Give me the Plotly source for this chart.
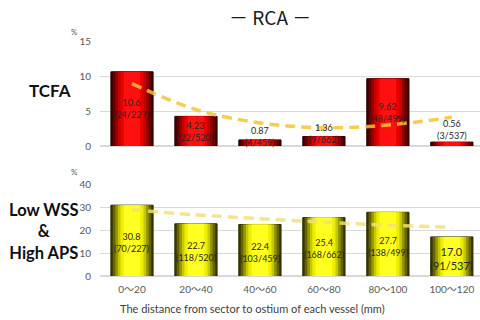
import plotly.graph_objects as go

categories = ["0～20", "20～40", "40～60", "60～80", "80～100", "100～120"]
tcfa_values = [10.6, 4.23, 0.87, 1.36, 9.62, 0.56]
tcfa_counts = ["24/227", "22/520", "4/459", "9/662", "48/499", "3/537"]
tcfa_trend = [8.9, 5.2, 3.3, 2.6, 3.0, 4.1]
wss_values = [30.8, 22.7, 22.4, 25.4, 27.7, 17.0]
wss_counts = ["70/227", "118/520", "103/459", "168/662", "138/499", "91/537"]
wss_trend = [28.8, 26.6, 24.9, 23.4, 22.1, 21.2]
tcfa_ticks = [0, 5, 10, 15]
wss_ticks = [0, 10, 20, 30, 40]

W, H = 480, 320
ML = 100


def px(x):
    return (x - ML) / (W - ML)


def py(y):
    return 1 - y / H


fig = go.Figure()

red_layers = [(0.66, "#3a0000"), (0.60, "#640000"), (0.52, "#960000"), (0.44, "#c40000"), (0.36, "#e60000"), (0.26, "#ff1010")]
yel_layers = [(0.66, "#3a3a00"), (0.60, "#646400"), (0.52, "#969600"), (0.44, "#c8c800"), (0.36, "#eeee00"), (0.26, "#ffff20")]

x_idx = list(range(len(categories)))
for i, (w, c) in enumerate(red_layers):
    fig.add_trace(go.Bar(x=x_idx, y=tcfa_values, width=w, marker=dict(color=c, line=dict(width=1 if i == 0 else 0, color="#2a0000")),
                         xaxis="x", yaxis="y", showlegend=False, hoverinfo="skip"))
for i, (w, c) in enumerate(yel_layers):
    fig.add_trace(go.Bar(x=x_idx, y=wss_values, width=w, marker=dict(color=c, line=dict(width=1 if i == 0 else 0, color="#2a2a00")),
                         xaxis="x2", yaxis="y2", showlegend=False, hoverinfo="skip"))

fig.add_trace(go.Scatter(x=x_idx, y=tcfa_trend, mode="lines", line=dict(color="rgba(245,195,50,0.85)", width=3.5, dash="10px,6px", shape="spline"),
                         xaxis="x", yaxis="y", showlegend=False, hoverinfo="skip"))
fig.add_trace(go.Scatter(x=x_idx, y=wss_trend, mode="lines", line=dict(color="rgba(242,225,120,0.85)", width=3.5, dash="10px,6px", shape="spline"),
                         xaxis="x2", yaxis="y2", showlegend=False, hoverinfo="skip"))

lab_font = dict(family="Lato, Open Sans, sans-serif", size=9, color="#262626")
annotations = []
for i, (v, c) in enumerate(zip(tcfa_values, tcfa_counts)):
    if v > 3:
        y = v / 2
    elif i == len(tcfa_values) - 1:
        y = v + 1.85
    else:
        y = v + 0.45
    annotations.append(dict(x=i, y=y, xref="x", yref="y", text=f"{v:g}<br>({c})", showarrow=False,
                            font=lab_font, yanchor="middle"))
for i, (v, c) in enumerate(zip(wss_values, wss_counts)):
    f = dict(lab_font)
    if i == len(wss_values) - 1:
        f["size"] = 11
    annotations.append(dict(x=i, y=v / 2 - 0.9, xref="x2", yref="y2", text=f"{v:.1f}<br>({c})", showarrow=False,
                            font=f, yanchor="middle"))


def pann(x, y, text, font, **kw):
    return dict(x=px(x), y=py(y), xref="paper", yref="paper", text=text, showarrow=False,
                xanchor="center", yanchor="middle", font=font, **kw)


annotations += [
    pann(270, 17, "－ RCA －", dict(family="Noto Sans CJK JP", size=19, color="#1a1a1a")),
    pann(74, 32, "%", dict(family="Lato", size=8, color="#595959")),
    pann(74, 172, "%", dict(family="Lato", size=8, color="#595959")),
    pann(50, 90, "<b>TCFA</b>", dict(family="Lato", size=17, color="#111111")),
    pann(44, 231, "<b>Low WSS</b><br><b>&amp;</b><br><b>High APS</b>", dict(family="Lato", size=16.5, color="#111111"),
         align="center"),
    pann(252, 308, "The distance from sector to ostium of each vessel (mm)", dict(family="Lato", size=11, color="#404040")),
]

xr = [-0.5, 5.44]
tick_font = dict(family="Lato, Noto Sans CJK JP, sans-serif", size=10, color="#595959")
fig.update_layout(
    width=W, height=H, margin=dict(l=ML, r=0, t=0, b=0, autoexpand=False),
    paper_bgcolor="white", plot_bgcolor="white", barmode="overlay",
    xaxis=dict(domain=[0, 1], range=xr, showticklabels=False, showgrid=False, zeroline=False, anchor="y", automargin=False),
    yaxis=dict(domain=[py(146), py(41)], range=[0, 15], tickvals=tcfa_ticks, gridcolor="#d9d9d9", automargin=False,
               zeroline=True, zerolinecolor="#d9d9d9", tickfont=tick_font, ticklabelstandoff=8, anchor="x"),
    xaxis2=dict(domain=[0, 1], range=xr, tickvals=x_idx, ticktext=categories, tickfont=tick_font, automargin=False,
                showgrid=False, zeroline=False, anchor="y2", ticklabelstandoff=6),
    yaxis2=dict(domain=[py(276), py(184)], range=[0, 40], tickvals=wss_ticks, gridcolor="#d9d9d9", automargin=False,
                zeroline=True, zerolinecolor="#d9d9d9", tickfont=tick_font, ticklabelstandoff=8, anchor="x2"),
    annotations=annotations,
)

fig.write_html("out.html", config={"displayModeBar": False},
               post_script="document.body.style.margin='0';document.body.style.padding='0';")
